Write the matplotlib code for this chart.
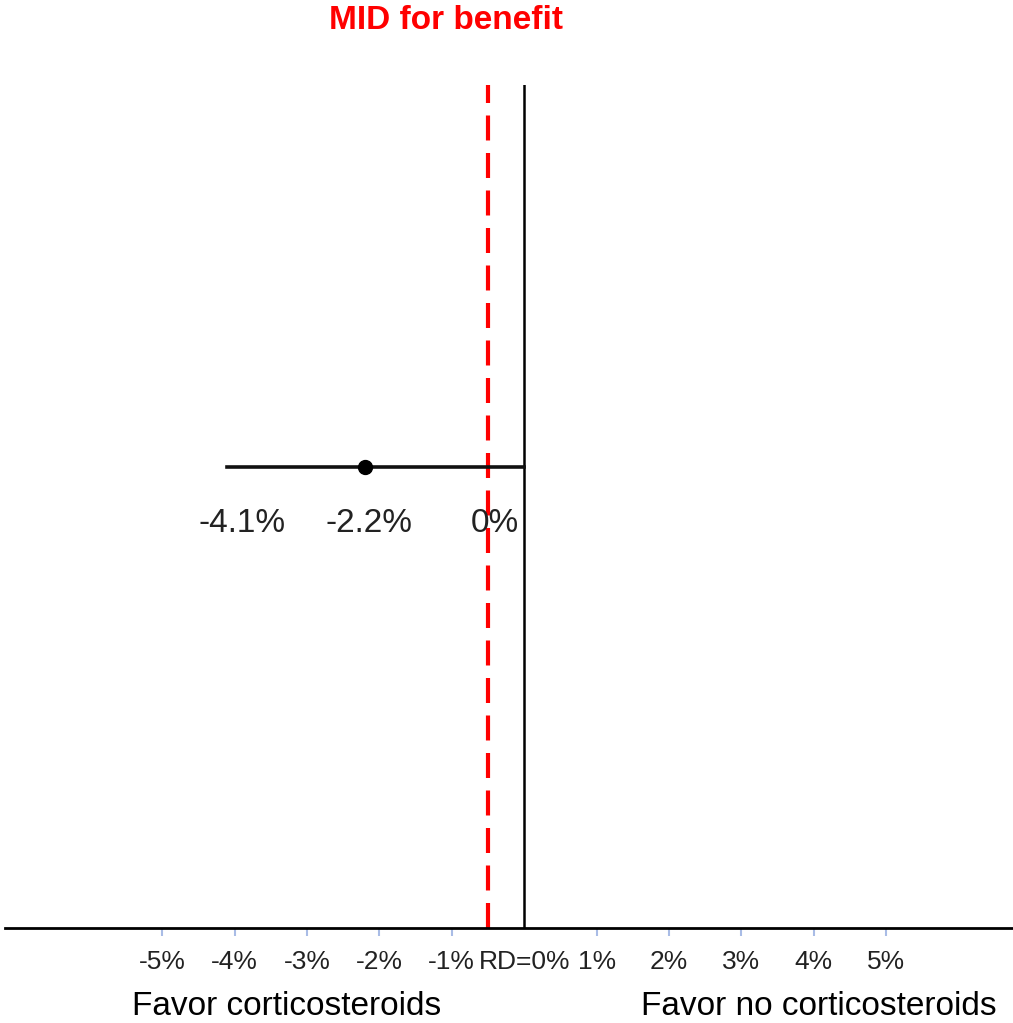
import matplotlib.pyplot as plt

plt.rcParams['font.family'] = ['Liberation Sans', 'DejaVu Sans']

# risk difference (%)
estimate = -2.2
ci_low = -4.1
ci_high = 0.0
mid = -0.5
ci_labels = ['-4.1%', '-2.2%', '0%']
ci_label_x = [-3.9, -2.15, -0.4]

tick_values = [-5, -4, -3, -2, -1, 0, 1, 2, 3, 4, 5]
tick_labels = ['-5%', '-4%', '-3%', '-2%', '-1%', 'RD=0%', '1%', '2%', '3%', '4%', '5%']

fig = plt.figure(figsize=(10.13, 10.23), dpi=100)
ax = fig.add_axes([5 / 1013, 0.093, 1 - 5 / 1013, 0.824])
ax.set_xlim(-7.17, 6.75)
ax.set_ylim(0, 1)

for s in ['top', 'left', 'right']:
    ax.spines[s].set_visible(False)
ax.spines['bottom'].set_linewidth(2)
ax.set_yticks([])

ax.set_xticks(tick_values)
ax.set_xticklabels(tick_labels, fontsize=19, color='#222222')
ax.tick_params(axis='x', length=6, width=1.5, color='#a9bce6', pad=10)
ax.get_xticklines()[10].set_visible(False)

# no-effect line and MID line
ax.plot([0, 0], [0, 1], color='black', linewidth=1.8)
ax.plot([mid, mid], [0, 1], color='red', linewidth=3, dashes=(6, 3))

# estimate with CI
ax.plot([ci_low, ci_high], [0.547, 0.547], color='#111111', linewidth=2.6)
ax.plot([estimate], [0.547], 'o', color='black', markersize=10)
for lab, x in zip(ci_labels, ci_label_x):
    ax.text(x, 0.48, lab, ha='center', va='center', fontsize=24, color='#222222')

fig.text(0.44, 0.98, 'MID for benefit', color='red', fontsize=24, fontweight='bold',
         ha='center', va='center')
fig.text(0.283, 0.016, 'Favor corticosteroids', fontsize=24, ha='center', va='center')
fig.text(0.808, 0.016, 'Favor no corticosteroids', fontsize=24, ha='center', va='center')

fig.savefig('out.png', dpi=100)
